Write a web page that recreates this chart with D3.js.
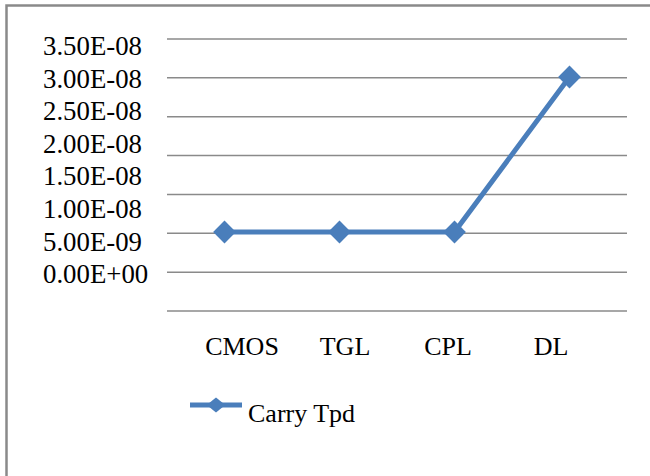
<!DOCTYPE html>
<html>
<head>
<meta charset="utf-8">
<script src="https://cdn.jsdelivr.net/npm/d3@7"></script>
<style>
  body { margin: 0; background: #fff; }
  svg text { font-family: "Liberation Serif", "Times New Roman", serif; }
</style>
</head>
<body>
<svg id="chart" width="650" height="476"></svg>
<script>
let categories = ["CMOS", "TGL", "CPL", "DL"];
let carryTpd = [5e-9, 5e-9, 5e-9, 3e-8];
let yTickValues = [0, 5e-9, 1e-8, 1.5e-8, 2e-8, 2.5e-8, 3e-8, 3.5e-8];
let yTickLabels = ["0.00E+00", "5.00E-09", "1.00E-08", "1.50E-08", "2.00E-08", "2.50E-08", "3.00E-08", "3.50E-08"];
let seriesName = "Carry Tpd";

let svg = d3.select("#chart");
let blue = "#4a7ebb";
let grey = "#8a8a8a";

// outer frame (only top + left edges show in the picture)
svg.append("path")
    .attr("d", "M6.5,476 L6.5,5.5 L650,5.5")
    .attr("fill", "none")
    .attr("stroke", grey)
    .attr("stroke-width", 2.5);

// the source picture is stretched: grid, labels and marks don't share one scale
let yGrid = d3.scaleLinear().domain([0, 3.5e-8]).range([311, 39]);
let yLab = d3.scaleLinear().domain([0, 3.5e-8]).range([274, 46]);
let y = d3.scaleLinear().domain([0, 3.5e-8]).range([263, 46]);
let x = d3.scalePoint().domain(categories).range([167, 627]).padding(0.5);
let xLab = d3.scalePoint().domain(categories).range([190, 602]).padding(0.5);

svg.append("g")
    .selectAll("line")
    .data(yTickValues)
    .join("line")
    .attr("x1", 167)
    .attr("x2", 627)
    .attr("y1", d => yGrid(d))
    .attr("y2", d => yGrid(d))
    .attr("stroke", grey)
    .attr("stroke-width", 1.5);

let yAxis = svg.append("g")
    .attr("transform", "translate(43,0)")
    .call(d3.axisLeft(yLab).tickValues(yTickValues).tickFormat((d, i) => yTickLabels[i]).tickSize(0));
yAxis.select(".domain").remove();
yAxis.selectAll("text")
    .attr("x", 0)
    .attr("text-anchor", "start")
    .attr("font-size", 26.8)
    .attr("font-family", "Liberation Serif")
    .attr("fill", "#000");

let xAxis = svg.append("g")
    .attr("transform", "translate(0,335)")
    .call(d3.axisBottom(xLab).tickSize(0));
xAxis.select(".domain").remove();
xAxis.selectAll("text")
    .attr("y", 0)
    .attr("dy", "0.78em")
    .attr("font-size", 26)
    .attr("font-family", "Liberation Serif")
    .attr("fill", "#000");

let line = d3.line()
    .x((d, i) => x(categories[i]))
    .y(d => y(d));

svg.append("path")
    .datum(carryTpd)
    .attr("fill", "none")
    .attr("stroke", blue)
    .attr("stroke-width", 5)
    .attr("stroke-linejoin", "round")
    .attr("d", line);

let diamond = d3.symbol().type(d3.symbolDiamond2).size(330);

svg.append("g")
    .selectAll("path")
    .data(carryTpd)
    .join("path")
    .attr("transform", (d, i) => "translate(" + x(categories[i]) + "," + y(d) + ")")
    .attr("d", diamond)
    .attr("fill", blue);

// legend
let legend = svg.append("g").attr("transform", "translate(190,405)");
legend.append("line")
    .attr("x1", 0)
    .attr("x2", 52)
    .attr("stroke", blue)
    .attr("stroke-width", 5);
legend.append("path")
    .attr("transform", "translate(26,0) scale(1,0.8)")
    .attr("d", d3.symbol().type(d3.symbolDiamond2).size(220))
    .attr("fill", blue);
legend.append("text")
    .attr("x", 58)
    .attr("y", 17)
    .attr("font-size", 26)
    .attr("fill", "#000")
    .text(seriesName);
</script>
</body>
</html>
